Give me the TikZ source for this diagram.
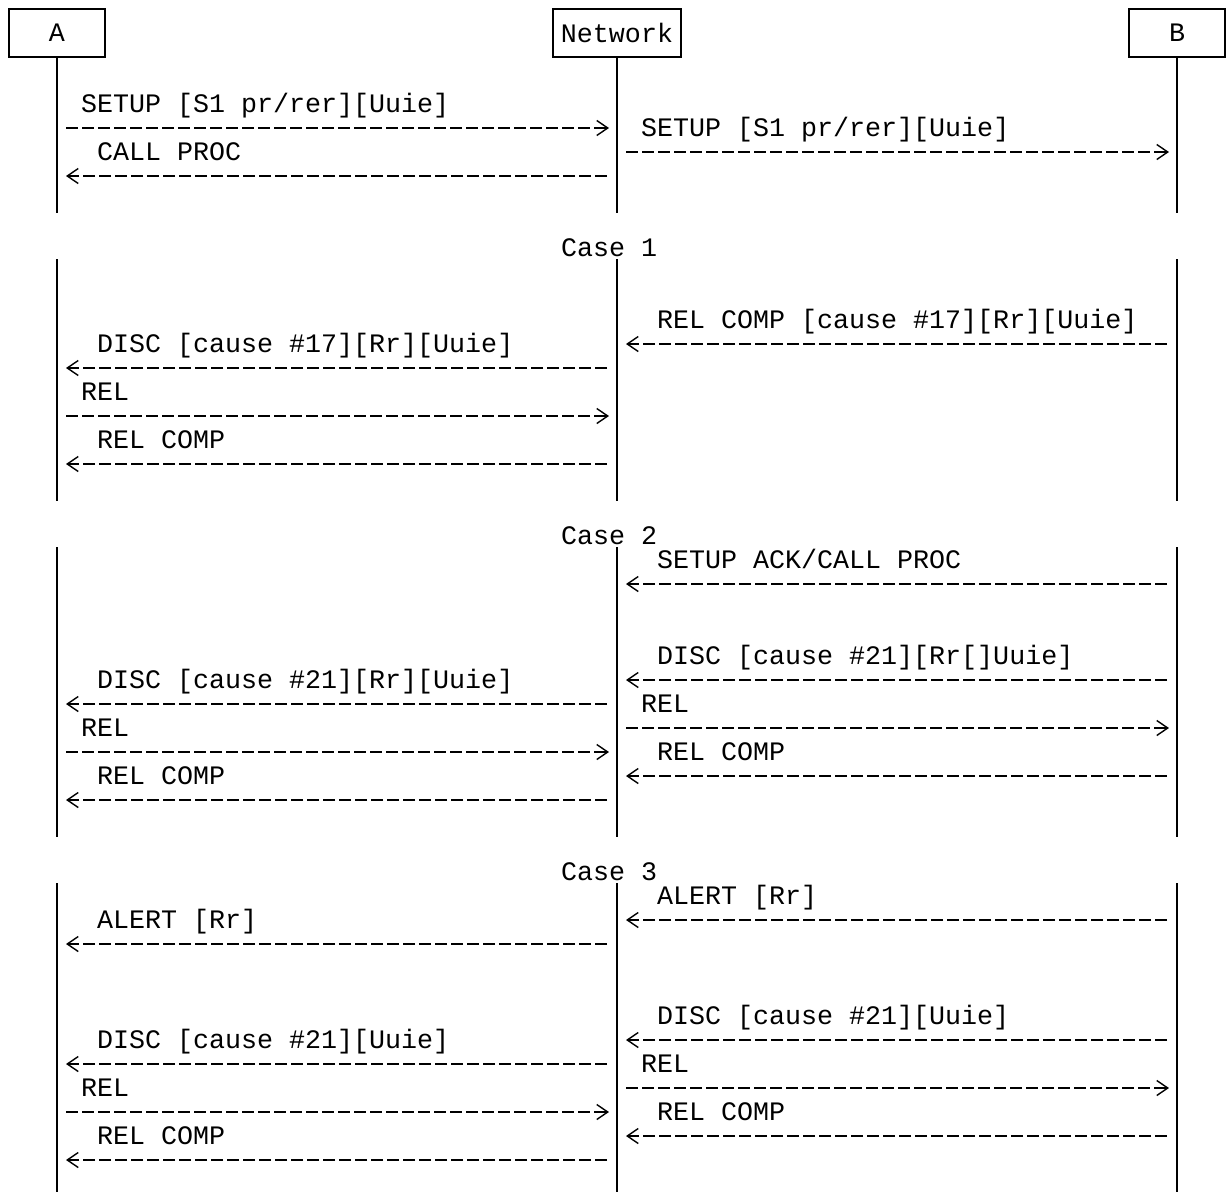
\documentclass[tikz,border=0pt]{standalone}
\usepackage{fontspec}
\usetikzlibrary{arrows.meta}
\newfontfamily\monofam{Liberation Mono}
\newcommand\mylabel[4]{\node[lbl] (#1) at ({16*#2+1},{24*#3+16.7}) {#4};}
\newcommand\laL[2]{\coordinate (#1s) at (607,{24*#2+8}); \coordinate (#1e) at (66,{24*#2+8}); \draw[msg] (#1s) -- (#1e);}
\newcommand\laR[2]{\coordinate (#1s) at (66,{24*#2+8}); \coordinate (#1e) at (609,{24*#2+8}); \draw[msg] (#1s) -- (#1e);}
\newcommand\raL[2]{\coordinate (#1s) at (1167,{24*#2+8}); \coordinate (#1e) at (626,{24*#2+8}); \draw[msg] (#1s) -- (#1e);}
\newcommand\raR[2]{\coordinate (#1s) at (626,{24*#2+8}); \coordinate (#1e) at (1169,{24*#2+8}); \draw[msg] (#1s) -- (#1e);}
\begin{document}
\begin{tikzpicture}[x=1pt,y=-1pt,
  every node/.style={font=\monofam\fontsize{26.67pt}{32pt}\selectfont, inner sep=0pt},
  actor/.style={draw, line width=1.9pt, minimum width=96pt, minimum height=48pt},
  lbl/.style={anchor=base west},
  life/.style={line width=1.8pt},
  msg/.style={line width=1.4pt, dash pattern=on 12pt off 4pt,
    -{Straight Barb[length=11pt,width=15pt]}}]
\useasboundingbox[fill=white] (0,0) rectangle (1229,1192);
% actors
\node[actor] (A) at (57,33) {A};
\node[actor, minimum width=128pt] (N) at (617,33) {Network};
\node[actor] (B) at (1177,33) {B};
% lifeline segment limits
\coordinate (s1e) at (0,213);
\coordinate (s2s) at (0,259);
\coordinate (s2e) at (0,501);
\coordinate (s3s) at (0,547);
\coordinate (s3e) at (0,837);
\coordinate (s4s) at (0,883);
\coordinate (s4e) at (0,1192);
\foreach \p in {A,N,B}{
  \draw[life] (\p.south) -- (\p.south |- s1e);
  \draw[life] (\p.south |- s2s) -- (\p.south |- s2e);
  \draw[life] (\p.south |- s3s) -- (\p.south |- s3e);
  \draw[life] (\p.south |- s4s) -- (\p.south |- s4e);
}
% case labels
\mylabel{c1}{35}{10}{Case 1}
\mylabel{c2}{35}{22}{Case 2}
\mylabel{c3}{35}{36}{Case 3}
% initial
\mylabel{t1}{5}{4}{SETUP [S1 pr/rer][Uuie]}
\laR{m1}{5}
\mylabel{t2}{40}{5}{SETUP [S1 pr/rer][Uuie]}
\raR{m2}{6}
\mylabel{t3}{6}{6}{CALL PROC}
\laL{m3}{7}
% case 1
\mylabel{t4}{41}{13}{REL COMP [cause \#17][Rr][Uuie]}
\raL{m4}{14}
\mylabel{t5}{6}{14}{DISC [cause \#17][Rr][Uuie]}
\laL{m5}{15}
\mylabel{t6}{5}{16}{REL}
\laR{m6}{17}
\mylabel{t7}{6}{18}{REL COMP}
\laL{m7}{19}
% case 2
\mylabel{t8}{41}{23}{SETUP ACK/CALL PROC}
\raL{m8}{24}
\mylabel{t9}{41}{27}{DISC [cause \#21][Rr[]Uuie]}
\raL{m9}{28}
\mylabel{t10}{40}{29}{REL}
\raR{m10}{30}
\mylabel{t11}{41}{31}{REL COMP}
\raL{m11}{32}
\mylabel{t12}{6}{28}{DISC [cause \#21][Rr][Uuie]}
\laL{m12}{29}
\mylabel{t13}{5}{30}{REL}
\laR{m13}{31}
\mylabel{t14}{6}{32}{REL COMP}
\laL{m14}{33}
% case 3
\mylabel{t15}{41}{37}{ALERT [Rr]}
\raL{m15}{38}
\mylabel{t16}{41}{42}{DISC [cause \#21][Uuie]}
\raL{m16}{43}
\mylabel{t17}{40}{44}{REL}
\raR{m17}{45}
\mylabel{t18}{41}{46}{REL COMP}
\raL{m18}{47}
\mylabel{t19}{6}{38}{ALERT [Rr]}
\laL{m19}{39}
\mylabel{t20}{6}{43}{DISC [cause \#21][Uuie]}
\laL{m20}{44}
\mylabel{t21}{5}{45}{REL}
\laR{m21}{46}
\mylabel{t22}{6}{47}{REL COMP}
\laL{m22}{48}
\end{tikzpicture}
\end{document}
